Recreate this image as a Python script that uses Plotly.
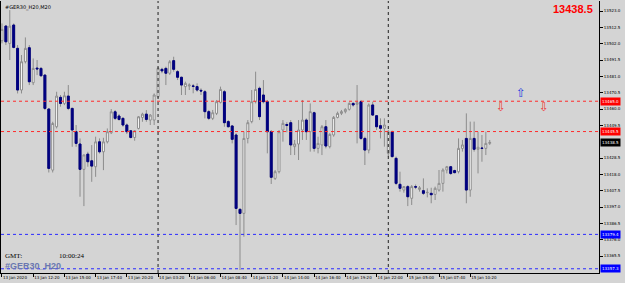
import plotly.graph_objects as go

# ---- data (GER30 M20) ----
opens = [13503.9,13513.3,13502.2,13514.0,13499.0,13472.2,13490.4,13499.4,13476.9,13486.3,
         13486.1,13481.8,13460.0,13420.7,13448.6,13467.5,13463.6,13468.3,13460.4,13445.4,
         13437.5,13421.2,13431.0,13426.7,13422.9,13438.9,13432.5,13438.9,13444.7,13458.2,
         13455.5,13454.0,13449.7,13446.0,13441.7,13447.5,13454.6,13456.7,13452.9,13452.9,
         13467.9,13485.5,13486.1,13483.0,13491.1,13484.0,13480.4,13474.4,13474.8,13474.8,
         13474.4,13472.0,13471.1,13458.3,13454.0,13457.2,13464.3,13471.1,13451.9,13449.1,
         13443.3,13395.5,13392.9,13441.1,13451.9,13464.7,13473.3,13469.0,13464.7,13445.4,
         13415.4,13419.7,13446.5,13450.0,13451.2,13435.8,13437.5,13446.5,13452.9,13445.4,
         13457.6,13434.7,13436.9,13448.6,13435.8,13443.3,13454.6,13457.2,13458.3,13459.8,
         13463.6,13463.0,13464.7,13441.1,13433.6,13462.6,13455.7,13449.3,13447.6,13431.5,
         13445.4,13428.3,13411.6,13407.9,13410.1,13402.6,13410.1,13408.3,13407.5,13406.2,
         13405.8,13405.1,13407.9,13412.2,13420.8,13422.9,13420.4,13419.7,13434.7,13441.1,
         13407.9,13441.1,13434.1,13434.9,13434.7,13437.9]
highs = [13515.0,13514.0,13523.6,13515.0,13501.1,13494.7,13506.0,13501.1,13492.5,13491.5,
         13487.0,13482.2,13460.5,13451.8,13471.1,13469.0,13471.1,13475.4,13460.8,13449.7,
         13441.1,13430.5,13432.5,13436.8,13442.2,13441.1,13441.5,13447.5,13460.0,13459.3,
         13456.7,13454.6,13450.7,13446.5,13446.5,13455.5,13457.6,13459.3,13456.7,13470.0,
         13487.0,13486.5,13487.2,13491.5,13493.6,13485.0,13480.8,13477.6,13476.5,13476.1,
         13476.5,13473.3,13472.2,13459.4,13459.4,13465.8,13474.4,13472.2,13452.9,13449.7,
         13444.4,13396.1,13445.4,13452.9,13472.2,13484.0,13474.4,13478.6,13465.8,13446.5,
         13420.8,13446.5,13452.9,13451.5,13452.9,13440.1,13452.9,13465.8,13454.0,13463.6,
         13458.3,13442.2,13449.7,13452.9,13444.4,13455.5,13458.3,13459.4,13460.5,13464.3,
         13464.3,13475.4,13465.8,13442.2,13463.6,13464.7,13456.1,13454.0,13454.0,13446.5,
         13446.1,13429.4,13419.7,13410.5,13411.1,13411.1,13411.5,13410.5,13415.4,13409.0,
         13409.4,13410.1,13420.8,13421.9,13423.4,13423.4,13421.0,13441.1,13440.1,13457.2,
         13451.9,13451.9,13445.4,13443.3,13445.4,13440.1]
lows = [13502.2,13501.1,13491.5,13499.0,13470.0,13470.0,13489.3,13475.4,13475.4,13481.8,
        13480.7,13459.3,13419.2,13419.2,13447.5,13461.5,13462.5,13459.3,13435.7,13435.7,
        13403.6,13397.6,13422.9,13413.2,13416.4,13431.4,13420.7,13437.9,13443.9,13452.9,
        13452.5,13448.6,13443.9,13441.1,13439.6,13446.9,13451.8,13451.8,13449.7,13449.7,
        13467.0,13483.0,13475.4,13481.9,13484.0,13478.6,13469.0,13469.0,13472.2,13470.1,
        13471.1,13469.0,13454.0,13452.9,13452.9,13456.1,13463.6,13448.6,13448.2,13437.9,
        13385.4,13356.5,13377.9,13437.9,13450.8,13463.6,13452.9,13463.6,13431.5,13411.8,
        13414.4,13418.6,13439.0,13445.0,13430.4,13430.4,13427.2,13440.1,13440.1,13432.6,
        13432.6,13431.5,13430.4,13434.7,13434.7,13442.2,13454.0,13456.1,13457.2,13459.0,
        13461.5,13437.9,13440.1,13424.0,13431.5,13455.5,13446.5,13441.1,13435.8,13429.4,
        13428.9,13411.1,13406.9,13406.2,13397.6,13398.3,13408.5,13406.9,13404.7,13403.2,
        13399.4,13401.5,13406.9,13406.9,13418.6,13417.6,13418.6,13418.6,13432.6,13399.4,
        13403.6,13432.6,13418.6,13426.1,13430.4,13436.9]
closes = [13511.2,13503.2,13513.3,13499.6,13472.2,13490.4,13499.0,13477.5,13486.1,13485.8,
          13481.4,13460.4,13421.8,13450.7,13468.3,13463.6,13468.5,13460.4,13446.5,13437.9,
          13421.2,13430.5,13426.1,13423.3,13438.9,13432.5,13438.9,13445.4,13458.2,13454.0,
          13453.3,13449.7,13445.4,13441.7,13446.0,13455.0,13456.7,13453.3,13456.1,13469.0,
          13486.1,13484.5,13483.0,13490.4,13485.5,13480.4,13475.4,13476.5,13475.4,13474.6,
          13472.2,13471.6,13458.3,13454.0,13457.6,13464.7,13472.6,13451.2,13448.6,13440.5,
          13396.1,13392.9,13441.1,13451.2,13464.7,13472.6,13455.1,13464.7,13445.4,13416.1,
          13419.7,13445.4,13450.8,13449.5,13436.9,13437.5,13446.5,13452.9,13445.4,13458.3,
          13434.7,13437.9,13448.6,13436.2,13443.7,13454.6,13457.2,13458.3,13459.8,13463.6,
          13462.6,13464.1,13441.1,13433.6,13462.6,13456.1,13448.6,13447.6,13449.7,13445.4,
          13429.4,13412.2,13409.0,13410.1,13403.6,13410.1,13409.8,13409.4,13405.8,13406.4,
          13404.9,13409.0,13412.2,13420.8,13422.9,13418.6,13419.1,13434.7,13436.9,13407.9,
          13441.1,13434.1,13435.4,13434.7,13437.9,13438.5]

tick_pos = [0, 8, 16, 24, 32, 40, 48, 56, 64, 72, 80, 88, 96, 104, 112, 120]
tick_labels = ["13 Jan 2020", "13 Jan 12:20", "13 Jan 15:00", "13 Jan 17:40", "13 Jan 20:20",
               "14 Jan 03:20", "14 Jan 06:00", "14 Jan 08:40", "14 Jan 11:20", "14 Jan 14:00",
               "14 Jan 16:40", "14 Jan 19:20", "14 Jan 22:00", "15 Jan 05:00", "15 Jan 07:40",
               "15 Jan 10:20"]
# 13439.0 sits under the current-price label in the reference
price_ticks = [13365.5, 13376.0, 13386.5, 13397.0, 13407.5, 13418.0, 13428.5,
               13449.5, 13460.0, 13470.5, 13481.0, 13491.5, 13502.0, 13512.5, 13523.0]

day_separators = [40, 99]
red_levels = [13465.0, 13445.5]
blue_levels = [13379.4, 13357.3]
last_price = 13438.5
up_arrows_x, up_arrows_y = [133], [13470.0]
down_arrows_x, down_arrows_y = [128, 139], [13461.6, 13461.6]

BG = "#D4D4D4"
NAVY = "#000080"
WICK = "#8C8C8C"

x = list(range(len(opens)))
fig = go.Figure()
fig.add_trace(go.Candlestick(
    x=x, open=opens, high=highs, low=lows, close=closes,
    increasing=dict(line=dict(color=WICK, width=1), fillcolor="#FFFFFF"),
    decreasing=dict(line=dict(color=WICK, width=1), fillcolor=NAVY),
    hoverinfo="skip", showlegend=False))

# bear bodies drawn solid navy on top (wicks stay grey)
dx = [i for i in x if closes[i] < opens[i]]
fig.add_trace(go.Candlestick(
    x=dx, open=[opens[i] for i in dx], close=[closes[i] for i in dx],
    high=[opens[i] for i in dx], low=[closes[i] for i in dx],
    increasing=dict(line=dict(color=NAVY, width=1), fillcolor=NAVY),
    decreasing=dict(line=dict(color=NAVY, width=1), fillcolor=NAVY),
    hoverinfo="skip", showlegend=False))

shapes = []
for s in day_separators:
    shapes.append(dict(type="line", xref="x", yref="paper", x0=s, x1=s, y0=0, y1=1,
                       line=dict(color="#202020", width=1, dash="dot")))
for lv in red_levels:
    shapes.append(dict(type="line", xref="paper", yref="y", x0=0, x1=1, y0=lv, y1=lv,
                       line=dict(color="#FF2A2A", width=1, dash="dot")))
for lv in blue_levels:
    shapes.append(dict(type="line", xref="paper", yref="y", x0=0, x1=1, y0=lv, y1=lv,
                       line=dict(color="#2A2AFF", width=1, dash="dot")))

ann = []
def price_label(v, bg):
    ann.append(dict(xref="paper", yref="y", x=1, y=v, xanchor="left", yanchor="middle",
                    xshift=1, text=f"{v:.1f}", showarrow=False, bgcolor=bg, borderpad=1,
                    font=dict(size=4, color="#FFFFFF", family="DejaVu Sans")))
for lv in red_levels:
    price_label(lv, "#FF0000")
price_label(last_price, "#000000")
for lv in blue_levels:
    price_label(lv, "#0000FF")

ann.append(dict(xref="paper", yref="paper", x=0.993, y=1, xanchor="right", yanchor="top",
                yshift=0, text=f"<b>{last_price:.1f}</b>", showarrow=False,
                font=dict(size=11, color="#FF0000", family="Liberation Sans")))
ann.append(dict(xref="paper", yref="paper", x=0, y=1, xanchor="left", yanchor="top",
                xshift=2, yshift=-1, text="#GER30_H20,M20", showarrow=False,
                font=dict(size=5, color="#000000", family="DejaVu Sans")))
ann.append(dict(xref="paper", yref="paper", x=0.003, y=0.0625, xanchor="left", yanchor="middle",
                text="GMT:", showarrow=False,
                font=dict(size=7, color="#000000", family="Liberation Serif")))
ann.append(dict(xref="paper", yref="paper", x=0.094, y=0.0625, xanchor="left", yanchor="middle",
                text="10:00:24", showarrow=False,
                font=dict(size=7, color="#000000", family="Liberation Serif")))
ann.append(dict(xref="paper", yref="paper", x=0.003, y=0.0, xanchor="left", yanchor="bottom",
                yshift=0, text="<b>#GER30_H20</b>", showarrow=False,
                font=dict(size=9, color="#6B78B0", family="Liberation Sans")))
for ax_, ay_ in zip(up_arrows_x, up_arrows_y):
    ann.append(dict(xref="x", yref="y", x=ax_, y=ay_, text="⇧", showarrow=False,
                    font=dict(size=12, color="#2040E0", family="DejaVu Sans")))
for ax_, ay_ in zip(down_arrows_x, down_arrows_y):
    ann.append(dict(xref="x", yref="y", x=ax_, y=ay_, text="⇩", showarrow=False,
                    font=dict(size=12, color="#F03030", family="DejaVu Sans")))

fig.update_layout(
    width=625, height=283, margin=dict(l=1, r=26, t=1, b=10, autoexpand=False),
    paper_bgcolor=BG, plot_bgcolor=BG, showlegend=False,
    shapes=shapes, annotations=ann,
    xaxis=dict(range=[-0.25, 153], tickvals=tick_pos, ticktext=tick_labels,
               ticks="outside", ticklen=3, tickcolor="#000000", showline=True,
               linecolor="#000000", linewidth=1, showgrid=False, zeroline=False,
               ticklabelposition="outside right", tickangle=0, automargin=False,
               tickfont=dict(size=4, color="#000000", family="DejaVu Sans"),
               rangeslider=dict(visible=False), fixedrange=True),
    yaxis=dict(side="right", range=[13354.58, 13529.43], tickvals=price_ticks,
               tickformat=".1f", ticks="outside", ticklen=3, tickcolor="#000000",
               showline=True, mirror=True, linecolor="#000000", linewidth=1,
               showgrid=False, zeroline=False, automargin=False,
               tickfont=dict(size=4, color="#000000", family="DejaVu Sans"),
               fixedrange=True),
)
fig.write_html("out.html")
